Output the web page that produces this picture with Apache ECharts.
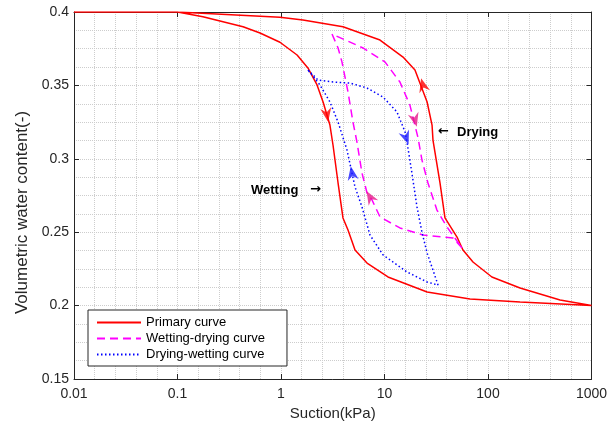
<!DOCTYPE html>
<html>
<head>
<meta charset="utf-8">
<script src="https://cdn.jsdelivr.net/npm/echarts@6/dist/echarts.min.js"></script>
<style>
html,body{margin:0;padding:0;background:#fff;}
#chart{width:616px;height:428px;}
</style>
</head>
<body>
<div id="chart"></div>
<script>
// ---- data (suction in kPa, volumetric water content) ----
const primarySuction = [0.01, 0.1, 0.176, 0.43, 0.627, 0.977, 1.43, 1.82, 2.23, 2.55, 2.97, 3.18, 3.56, 3.97, 4.44, 5.19, 6.78, 10.8, 25.8, 67, 204, 1000,
  497, 204, 109, 71.6, 57.3, 50.2, 38.4, 34.4, 29.4, 28.8, 25.8, 19.7, 15.1, 9.05, 3.97, 1.63, 0.977, 0.1];
const primaryTheta = [0.4, 0.4, 0.3968, 0.39, 0.3857, 0.3794, 0.3707, 0.3619, 0.3503, 0.3387, 0.323, 0.3094, 0.2835, 0.2597, 0.2515, 0.2379, 0.229, 0.2195, 0.2093, 0.2045, 0.2025, 0.2,
  0.2038, 0.212, 0.2195, 0.2297, 0.2379, 0.2467, 0.2597, 0.2835, 0.3128, 0.323, 0.3387, 0.3605, 0.3693, 0.3809, 0.39, 0.3946, 0.3964, 0.4];

const wdSuction = [56.1, 45.9, 23.5, 14.1, 9.05, 7.57, 6.78, 6.06, 5.42, 4.96, 4.44, 3.88, 3.56, 3.11, 6.2, 10.1, 14.1, 17.6, 21.1, 23.0, 26.3, 32.1, 40.2, 56.1];
const wdTheta = [0.2392, 0.246, 0.2481, 0.2529, 0.2604, 0.272, 0.2767, 0.2903, 0.3114, 0.325, 0.3455, 0.366, 0.3755, 0.385, 0.3755, 0.366, 0.3523, 0.3366, 0.3142, 0.2992, 0.2835, 0.2651, 0.2535, 0.2392];

const dwSuction = [1.82, 2.28, 3.18, 4.64, 6.78, 9.68, 13.2, 15.8, 16.5, 18.4, 20.6, 23.0, 25.8, 29.4, 32.9, 25.8, 16.5, 9.68, 7.24, 6.06, 5.19, 4.85, 4.34, 3.56, 2.97, 2.38, 1.82];
const dwTheta = [0.3605, 0.3537, 0.3523, 0.3516, 0.3482, 0.3421, 0.3319, 0.3183, 0.3114, 0.2903, 0.2672, 0.2501, 0.2358, 0.2242, 0.214, 0.2161, 0.2229, 0.2345, 0.2481, 0.2672, 0.2808, 0.2903, 0.306, 0.325, 0.3387, 0.3503, 0.3605];

// direction arrows on the curves
const primaryArrowSuction = [2.78, 23.5];
const primaryArrowTheta = [0.3298, 0.3503];
const primaryArrowAngle = [190, 15];
const wdArrowSuction = [19.7, 7.24];
const wdArrowTheta = [0.3264, 0.274];
const wdArrowAngle = [195, 30];
const dwArrowSuction = [16.2, 4.85];
const dwArrowTheta = [0.3142, 0.2903];
const dwArrowAngle = [200, 10];

const xTickLabels = ['0.01', '0.1', '1', '10', '100', '1000'];
const seriesNames = ['Primary curve', 'Wetting-drying curve', 'Drying-wetting curve'];

function pairs(xs, ys) { return xs.map((x, i) => [x, ys[i]]); }
function arrows(xs, ys, ang) { return xs.map((x, i) => ({ value: [x, ys[i]], symbolRotate: ang[i] })); }

const FONT = '"Liberation Sans", Arial, Helvetica, sans-serif';
const ARROWFONT = '"DejaVu Sans", sans-serif';
const AXC = '#262626';
const GRIDC = '#cdcdcd';
const arrowPath = 'path://M5,0 L10,13 L5,9 L0,13 Z';

const chart = echarts.init(document.getElementById('chart'));
const option = {
  animation: false,
  backgroundColor: '#fff',
  textStyle: { fontFamily: FONT },
  grid: { left: 74, right: 24.5, top: 12, bottom: 49 },
  legend: {
    data: seriesNames,
    orient: 'vertical',
    left: 88, top: 310,
    padding: [6, 22, 5, 8],
    itemGap: 3,
    itemWidth: 44,
    itemHeight: 13,
    backgroundColor: '#fff',
    borderColor: '#262626',
    borderWidth: 1,
    borderRadius: 0,
    itemStyle: { opacity: 0 },
    textStyle: { fontSize: 13, color: '#000', fontFamily: FONT }
  },
  xAxis: [
    {
      type: 'log', logBase: 10, min: 0.01, max: 1000, position: 'bottom',
      name: 'Suction(kPa)', nameLocation: 'middle', nameGap: 24,
      nameTextStyle: { fontSize: 15, color: AXC, fontFamily: FONT },
      axisLine: { show: true, onZero: false, lineStyle: { color: AXC, width: 1 } },
      axisTick: { show: true, inside: true, length: 5, lineStyle: { color: AXC } },
      axisLabel: {
        color: AXC, fontSize: 14, margin: 8, fontFamily: FONT,
        formatter: function (v) {
          const k = Math.round(Math.log10(v)) + 2;
          return xTickLabels[k] !== undefined ? xTickLabels[k] : '';
        }
      },
      splitLine: { show: true, lineStyle: { color: GRIDC, type: 'dotted', width: 1 } }
    },
    {
      type: 'log', logBase: 10, min: 0.01, max: 1000, position: 'top',
      axisLine: { show: true, onZero: false, lineStyle: { color: AXC, width: 1 } },
      axisTick: { show: true, inside: true, length: 5, lineStyle: { color: AXC } },
      axisLabel: { show: false },
      splitLine: { show: false }
    },
    {
      type: 'value', min: -2, max: 3, interval: 0.2, position: 'bottom',
      axisLine: { show: false, onZero: false }, axisTick: { show: false }, axisLabel: { show: false },
      splitLine: { show: true, lineStyle: { color: GRIDC, type: 'dotted', width: 1 } }
    }
  ],
  yAxis: [
    {
      type: 'value', min: 0.15, max: 0.4, interval: 0.05, position: 'left',
      name: 'Volumetric water content(-)', nameLocation: 'middle', nameGap: 43, nameRotate: 90,
      nameTextStyle: { fontSize: 17, color: AXC, fontFamily: FONT, padding: [0, 34, 0, 0] },
      axisLine: { show: true, onZero: false, lineStyle: { color: AXC, width: 1 } },
      axisTick: { show: true, inside: true, length: 5, lineStyle: { color: AXC } },
      axisLabel: { color: AXC, fontSize: 14, margin: 5, fontFamily: FONT },
      splitLine: { show: true, lineStyle: { color: GRIDC, type: 'dotted', width: 1 } },
      minorTick: { show: false, splitNumber: 4 },
      minorSplitLine: { show: true, lineStyle: { color: GRIDC, type: 'dotted', width: 1 } }
    },
    {
      type: 'value', min: 0.15, max: 0.4, interval: 0.05, position: 'right',
      axisLine: { show: true, onZero: false, lineStyle: { color: AXC, width: 1 } },
      axisTick: { show: true, inside: true, length: 5, lineStyle: { color: AXC } },
      axisLabel: { show: false },
      splitLine: { show: false }
    }
  ],
  series: [
    {
      name: seriesNames[0], type: 'line', xAxisIndex: 0, yAxisIndex: 0,
      data: pairs(primarySuction, primaryTheta), symbol: 'none', smooth: false,
      lineStyle: { color: '#ff0000', width: 1.5 }, itemStyle: { color: '#ff0000' }, z: 3
    },
    {
      name: seriesNames[1], type: 'line', xAxisIndex: 0, yAxisIndex: 0,
      data: pairs(wdSuction, wdTheta), symbol: 'none',
      lineStyle: { color: '#ff00ff', width: 1.5, type: [8, 5] }, itemStyle: { color: '#ff00ff' }, z: 4
    },
    {
      name: seriesNames[2], type: 'line', xAxisIndex: 0, yAxisIndex: 0,
      data: pairs(dwSuction, dwTheta), symbol: 'none',
      lineStyle: { color: '#0000ff', width: 1.5, type: [1.5, 2.5] }, itemStyle: { color: '#0000ff' }, z: 5
    },
    {
      type: 'scatter', xAxisIndex: 0, yAxisIndex: 0, symbol: arrowPath, symbolSize: [11, 14],
      data: arrows(primaryArrowSuction, primaryArrowTheta, primaryArrowAngle),
      itemStyle: { color: '#ff0000' }, silent: true, z: 6
    },
    {
      type: 'scatter', xAxisIndex: 0, yAxisIndex: 0, symbol: arrowPath, symbolSize: [11, 14],
      data: arrows(wdArrowSuction, wdArrowTheta, wdArrowAngle),
      itemStyle: { color: '#e6198a' }, silent: true, z: 6
    },
    {
      type: 'scatter', xAxisIndex: 0, yAxisIndex: 0, symbol: arrowPath, symbolSize: [11, 14],
      data: arrows(dwArrowSuction, dwArrowTheta, dwArrowAngle),
      itemStyle: { color: '#1a1aff' }, silent: true, z: 6
    }
  ],
  graphic: [
    { type: 'text', x: 438, y: 132, z: 10, style: { text: '←', font: 'bold 13px ' + ARROWFONT, fill: '#000', textVerticalAlign: 'middle' } },
    { type: 'text', x: 457, y: 132, z: 10, style: { text: 'Drying', font: 'bold 13px ' + FONT, fill: '#000', textVerticalAlign: 'middle' } },
    { type: 'text', x: 251, y: 190, z: 10, style: { text: 'Wetting', font: 'bold 13px ' + FONT, fill: '#000', textVerticalAlign: 'middle' } },
    { type: 'text', x: 310, y: 190, z: 10, style: { text: '→', font: 'bold 13px ' + ARROWFONT, fill: '#000', textVerticalAlign: 'middle' } }
  ]
};
chart.setOption(option);
</script>
</body>
</html>
